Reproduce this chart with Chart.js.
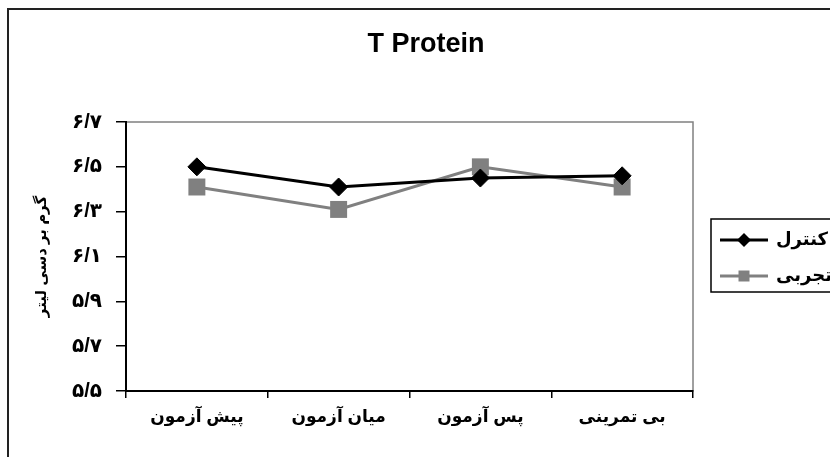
<!DOCTYPE html>
<html>
<head>
<meta charset="utf-8">
<script src="https://cdn.jsdelivr.net/npm/chart.js@4"></script>
<style>
  html, body { margin: 0; padding: 0; background: #fff; overflow: hidden; }
  #wrap { position: relative; width: 830px; height: 457px; }
</style>
</head>
<body>
<div id="wrap"><canvas id="chart" width="830" height="457"></canvas></div>
<script>
const TITLE = 'T Protein';
const Y_TITLE = 'گرم بر دسی لیتر';
const CATEGORIES = ['پیش آزمون', 'میان آزمون', 'پس آزمون', 'بی تمرینی'];
const CONTROL = [6.50, 6.41, 6.45, 6.46];
const EXPERIMENTAL = [6.41, 6.31, 6.50, 6.41];
const SERIES_NAMES = ['کنترل', 'تجربی'];

const FONT = '"Liberation Sans", "DejaVu Sans", Arial, sans-serif';
const FA_DIGITS = '۰۱۲۳۴۵۶۷۸۹';

function toPersian(v) {
    return v.toFixed(1).replace('.', '/').replace(/\d/g, d => FA_DIGITS[d]);
}

// frame, title, gray plot border and legend box
const decor = {
    id: 'decor',
    beforeDraw(chart) {
        const ctx = chart.ctx;
        const a = chart.chartArea;
        ctx.save();
        ctx.strokeStyle = '#222';
        ctx.lineWidth = 2;
        ctx.strokeRect(8, 9, 900, 520);
        ctx.strokeStyle = '#808080';
        ctx.lineWidth = 1.5;
        ctx.strokeRect(a.left, a.top, a.right - a.left, a.bottom - a.top);
        ctx.restore();
    },
    afterDraw(chart) {
        const ctx = chart.ctx;
        ctx.save();
        ctx.fillStyle = '#000';
        ctx.font = 'bold 27px ' + FONT;
        ctx.textAlign = 'center';
        ctx.textBaseline = 'middle';
        ctx.fillText(TITLE, 426, 45);

        // legend
        ctx.strokeStyle = '#000';
        ctx.lineWidth = 1.5;
        ctx.strokeRect(711, 219, 200, 73);
        chart.data.datasets.forEach((ds, i) => {
            const y = 240 + i * 36;
            ctx.strokeStyle = ds.borderColor;
            ctx.lineWidth = 3;
            ctx.beginPath();
            ctx.moveTo(720, y);
            ctx.lineTo(768, y);
            ctx.stroke();
            ctx.fillStyle = ds.pointBackgroundColor;
            ctx.beginPath();
            if (ds.pointStyle === 'rectRot') {
                ctx.moveTo(744 - 7, y); ctx.lineTo(744, y - 7);
                ctx.lineTo(744 + 7, y); ctx.lineTo(744, y + 7);
            } else {
                ctx.rect(744 - 5.5, y - 5.5, 11, 11);
            }
            ctx.closePath();
            ctx.fill();
            ctx.fillStyle = '#000';
            ctx.font = 'bold 18px ' + FONT;
            ctx.textAlign = 'left';
            ctx.fillText(ds.label, 776, y);
        });
        ctx.restore();
    }
};

new Chart(document.getElementById('chart'), {
    type: 'line',
    data: {
        labels: CATEGORIES,
        datasets: [
            {
                label: SERIES_NAMES[0],
                data: CONTROL,
                borderColor: '#000',
                backgroundColor: '#000',
                pointBackgroundColor: '#000',
                pointBorderColor: '#000',
                pointStyle: 'rectRot',
                pointRadius: 9,
                pointBorderWidth: 1,
                borderWidth: 3,
                tension: 0,
                order: 1
            },
            {
                label: SERIES_NAMES[1],
                data: EXPERIMENTAL,
                borderColor: '#808080',
                backgroundColor: '#808080',
                pointBackgroundColor: '#808080',
                pointBorderColor: '#808080',
                pointStyle: 'rect',
                pointRadius: 12,
                pointBorderWidth: 0,
                borderWidth: 3,
                tension: 0,
                order: 2
            }
        ]
    },
    options: {
        responsive: false,
        animation: false,
        layout: { padding: { top: 122, right: 137, left: 0, bottom: 0 } },
        plugins: {
            legend: { display: false },
            title: { display: false },
            tooltip: { enabled: false }
        },
        scales: {
            x: {
                offset: true,
                grid: {
                    offset: true,
                    drawOnChartArea: false,
                    drawTicks: true,
                    tickLength: 7,
                    color: '#000',
                    lineWidth: 1.5
                },
                border: { color: '#000', width: 2 },
                ticks: {
                    color: '#000',
                    padding: 9,
                    maxRotation: 0,
                    font: { family: FONT, size: 17, weight: 'bold' }
                },
                afterFit(scale) { scale.height = 66; }
            },
            y: {
                min: 5.5,
                max: 6.7,
                grid: {
                    drawOnChartArea: false,
                    drawTicks: true,
                    tickLength: 10,
                    color: '#000',
                    lineWidth: 1.5
                },
                border: { color: '#000', width: 2 },
                ticks: {
                    stepSize: 0.2,
                    color: '#000',
                    padding: 14,
                    font: { family: FONT, size: 20, weight: 'bold' },
                    callback: v => toPersian(v)
                },
                title: {
                    display: true,
                    text: Y_TITLE,
                    color: '#000',
                    padding: { top: 33, bottom: 0 },
                    font: { family: FONT, size: 15, weight: 'bold' }
                },
                afterFit(scale) { scale.width = 126; }
            }
        }
    },
    plugins: [decor]
});
</script>
</body>
</html>
